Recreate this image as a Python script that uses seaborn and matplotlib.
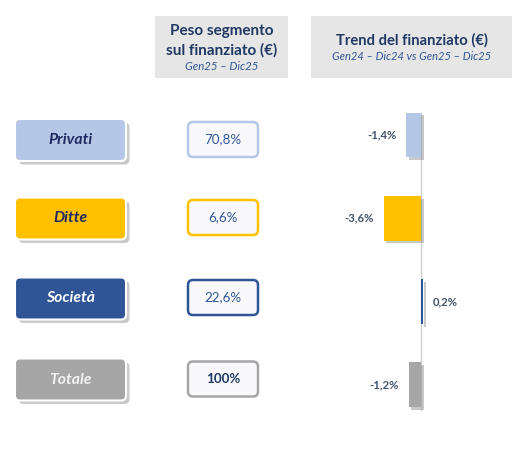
import matplotlib
matplotlib.use("Agg")
import matplotlib.pyplot as plt
import matplotlib.patheffects as pe
from matplotlib.patches import FancyBboxPatch
import seaborn as sns
import pandas as pd

# ---- data ----
categories = ["Privati", "Ditte", "Società", "Totale"]
peso = [70.8, 6.6, 22.6, 100.0]
trend = [-1.4, -3.6, 0.2, -1.2]
header_left = ["Peso segmento", "sul finanziato (€)"]
sub_left = "Gen25 – Dic25"
header_right = "Trend del finanziato (€)"
sub_right = "Gen24 – Dic24 vs Gen25 – Dic25"

colors = ["#B4C7E7", "#FFC000", "#2F5597", "#A6A6A6"]
cat_text = ["#1F2A5E", "#1F2A5E", "#FFFFFF", "#F2F2F2"]

sns.set_theme(style="white")
plt.rcParams["font.family"] = ["Lato", "DejaVu Sans"]

W, H = 524, 455
fig = plt.figure(figsize=(W / 100, H / 100), dpi=100)
fig.patch.set_facecolor("white")

# background axes in pixel coordinates
bg = fig.add_axes([0, 0, 1, 1])
bg.set_xlim(0, W)
bg.set_ylim(0, H)
bg.axis("off")


def Y(y):
    return H - y


def box(x0, y0, x1, y1, fc, ec, lw=1.5, rs=5, shadow=False, z=1):
    p = FancyBboxPatch((x0, Y(y1)), x1 - x0, y1 - y0,
                       boxstyle=f"round,pad=0,rounding_size={rs}",
                       fc=fc, ec=ec, lw=lw, zorder=z)
    if shadow:
        p.set_path_effects([pe.withSimplePatchShadow(offset=(2.5, -2.5), shadow_rgbFace="#888888", alpha=0.45)])
    bg.add_patch(p)


# headers
box(155, 16, 288, 78, "#E7E6E6", "none", lw=0, rs=0)
box(311, 16, 512, 78, "#E7E6E6", "none", lw=0, rs=0)
bg.text(221.5, Y(31), header_left[0], ha="center", va="center", fontsize=11,
        fontweight="bold", color="#1F3864")
bg.text(221.5, Y(50), header_left[1], ha="center", va="center", fontsize=11,
        fontweight="bold", color="#1F3864")
bg.text(221.5, Y(66), sub_left, ha="center", va="center", fontsize=8.2,
        style="italic", color="#2F5597")
bg.text(411.5, Y(40), header_right, ha="center", va="center", fontsize=10.6,
        fontweight="bold", color="#1F3864")
bg.text(411.5, Y(56), sub_right, ha="center", va="center", fontsize=8,
        style="italic", color="#2F5597")

# rows
row_c = [140, 218.5, 298.5, 379.5]
pct_c = [139.5, 217.5, 297.5, 379]
for i, cat in enumerate(categories):
    yc = row_c[i]
    box(15, yc - 21, 126, yc + 21, colors[i], "white", lw=1.5, rs=5, shadow=True)
    bg.text(70.5, Y(yc), cat, ha="center", va="center", fontsize=11.3,
            fontweight="bold", style="italic", color=cat_text[i], zorder=5)
    pc = pct_c[i]
    box(188, pc - 17.5, 258, pc + 17.5, "#F9F9FB", colors[i], lw=1.8, rs=5)
    s = f"{peso[i]:.1f}".replace(".", ",") + "%" if peso[i] != 100 else "100%"
    bg.text(223, Y(pc), s, ha="center", va="center", fontsize=9.6,
            fontweight="bold" if i == 3 else "normal",
            color="#1F3864" if i == 3 else "#2F5597", zorder=5)

# bar chart axes: zero at x=421 px, 10.4 px per unit, rows 83.2 px apart starting at 135
ppu = 10.4
x_lo, x_hi = -4.0, 4.0
left_px = 421 + x_lo * ppu
width_px = (x_hi - x_lo) * ppu
top_px = 135 - 83.2 / 2
height_px = 83.2 * 4
axb = fig.add_axes([left_px / W, (H - top_px - height_px) / H, width_px / W, height_px / H])
axb.patch.set_alpha(0)

df = pd.DataFrame({"cat": categories, "trend": trend})
sns.barplot(data=df, x="trend", y="cat", hue="cat", palette=colors, orient="h",
            width=0.54, legend=False, ax=axb, saturation=1, linewidth=0)
axb.set_xlim(x_lo, x_hi)
axb.set_ylim(3.5, -0.5)
axb.axis("off")
axb.plot([0, 0], [-0.27, 3.31], color="#D0D0D0", lw=1, zorder=0)

for p, v in zip(axb.patches, trend):
    p.set_path_effects([pe.withSimplePatchShadow(offset=(2, -2), shadow_rgbFace="#888888", alpha=0.45)])
    yc = p.get_y() + p.get_height() / 2
    lab = f"{v:.1f}".replace(".", ",") + "%"
    if v < 0:
        axb.annotate(lab, (v, yc), xytext=(-7, 0), textcoords="offset points",
                     ha="right", va="center", fontsize=8.2, fontweight="bold", color="#44546A")
    else:
        axb.annotate(lab, (v, yc), xytext=(7, 0), textcoords="offset points",
                     ha="left", va="center", fontsize=8.2, fontweight="bold", color="#44546A")

fig.savefig("out.png", dpi=100, facecolor="white")
